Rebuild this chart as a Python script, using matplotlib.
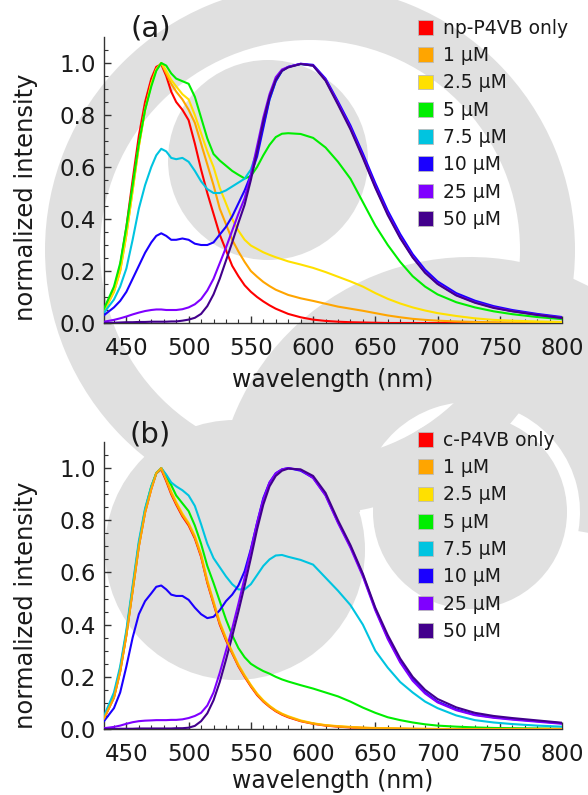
import numpy as np
import matplotlib
matplotlib.use('Agg')
import matplotlib.pyplot as plt
from matplotlib.patches import Circle, Wedge, Patch

# common wavelength grid (nm)
wl = [432, 440, 445, 450, 455, 460, 465, 470, 474, 478, 482, 486, 490, 495, 500, 505, 510,
      515, 520, 525, 530, 535, 540, 545, 550, 555, 560, 565, 570, 575, 580, 590, 600, 610,
      620, 630, 640, 650, 660, 670, 680, 690, 700, 715, 730, 745, 760, 780, 800]

labels_a = ['np-P4VB only', '1 μM', '2.5 μM', '5 μM', '7.5 μM', '10 μM', '25 μM', '50 μM']
labels_b = ['c-P4VB only', '1 μM', '2.5 μM', '5 μM', '7.5 μM', '10 μM', '25 μM', '50 μM']
colors = ['#ff0000', '#ffa500', '#ffe000', '#00ee00', '#00c4e0', '#1a00ff', '#7f00ff', '#42008c']

# ---- panel (a) ----
a_only = [0.05, 0.13, 0.22, 0.37, 0.55, 0.72, 0.85, 0.94, 0.985, 0.995, 0.95, 0.89, 0.85, 0.82, 0.78,
          0.69, 0.59, 0.50, 0.42, 0.34, 0.28, 0.22, 0.18, 0.145, 0.12, 0.10, 0.083, 0.068, 0.055,
          0.045, 0.035, 0.022, 0.013, 0.008, 0.005, 0.003, 0.002, 0.001, 0.0, 0.0, 0.0, 0.0, 0.0,
          0.0, 0.0, 0.0, 0.0, 0.0, 0.0]
a_1 = [0.045, 0.12, 0.20, 0.34, 0.51, 0.68, 0.82, 0.92, 0.975, 1.0, 0.96, 0.92, 0.89, 0.86, 0.82,
       0.77, 0.69, 0.61, 0.53, 0.44, 0.38, 0.32, 0.275, 0.235, 0.20, 0.178, 0.158, 0.142, 0.128,
       0.118, 0.108, 0.095, 0.085, 0.074, 0.063, 0.055, 0.047, 0.038, 0.029, 0.022, 0.016, 0.012,
       0.009, 0.006, 0.004, 0.003, 0.002, 0.001, 0.001]
a_25 = [0.045, 0.12, 0.20, 0.34, 0.51, 0.68, 0.82, 0.92, 0.975, 1.0, 0.97, 0.935, 0.91, 0.88, 0.86,
        0.80, 0.73, 0.66, 0.60, 0.52, 0.46, 0.40, 0.355, 0.32, 0.298, 0.285, 0.272, 0.262, 0.253,
        0.245, 0.237, 0.225, 0.212, 0.196, 0.178, 0.16, 0.14, 0.115, 0.093, 0.075, 0.06, 0.048,
        0.038, 0.027, 0.018, 0.012, 0.009, 0.006, 0.004]
a_5 = [0.055, 0.14, 0.23, 0.37, 0.53, 0.69, 0.82, 0.91, 0.97, 1.0, 0.99, 0.96, 0.94, 0.93, 0.92,
       0.87, 0.79, 0.71, 0.65, 0.625, 0.605, 0.585, 0.57, 0.556, 0.565, 0.60, 0.645, 0.685, 0.715,
       0.728, 0.73, 0.727, 0.712, 0.675, 0.62, 0.555, 0.465, 0.375, 0.30, 0.235, 0.18, 0.14, 0.11,
       0.08, 0.06, 0.045, 0.034, 0.023, 0.015]
a_75 = [0.04, 0.09, 0.14, 0.21, 0.32, 0.44, 0.53, 0.60, 0.645, 0.67, 0.66, 0.635, 0.63, 0.635, 0.62,
        0.585, 0.545, 0.515, 0.50, 0.50, 0.51, 0.525, 0.54, 0.555, 0.59, 0.66, 0.76, 0.86, 0.93,
        0.97, 0.985, 0.996, 0.99, 0.935, 0.845, 0.75, 0.64, 0.525, 0.42, 0.33, 0.255, 0.195, 0.152,
        0.108, 0.08, 0.06, 0.046, 0.032, 0.02]
a_10 = [0.03, 0.06, 0.085, 0.12, 0.17, 0.22, 0.27, 0.31, 0.335, 0.345, 0.335, 0.32, 0.32, 0.325, 0.32,
        0.305, 0.30, 0.30, 0.31, 0.34, 0.37, 0.41, 0.46, 0.51, 0.57, 0.64, 0.75, 0.86, 0.93, 0.97,
        0.985, 0.997, 0.993, 0.94, 0.852, 0.76, 0.652, 0.538, 0.432, 0.342, 0.265, 0.205, 0.16,
        0.115, 0.086, 0.065, 0.05, 0.035, 0.023]
a_250 = [0.005, 0.012, 0.018, 0.025, 0.033, 0.04, 0.046, 0.05, 0.052, 0.052, 0.05, 0.05, 0.05, 0.053,
         0.06, 0.072, 0.092, 0.125, 0.17, 0.23, 0.29, 0.355, 0.42, 0.48, 0.57, 0.68, 0.79, 0.88,
         0.945, 0.975, 0.985, 0.997, 0.99, 0.935, 0.845, 0.75, 0.64, 0.525, 0.42, 0.33, 0.255,
         0.195, 0.152, 0.108, 0.08, 0.06, 0.046, 0.032, 0.02]
a_50 = [0.0, 0.001, 0.002, 0.003, 0.003, 0.004, 0.004, 0.005, 0.005, 0.005, 0.005, 0.006, 0.006,
        0.009, 0.013, 0.02, 0.035, 0.065, 0.11, 0.17, 0.24, 0.31, 0.385, 0.455, 0.55, 0.66, 0.775,
        0.87, 0.935, 0.97, 0.983, 0.996, 0.99, 0.932, 0.84, 0.745, 0.635, 0.52, 0.415, 0.326,
        0.252, 0.193, 0.15, 0.106, 0.078, 0.058, 0.045, 0.031, 0.019]

# ---- panel (b) ----
b_only = [0.04, 0.12, 0.22, 0.36, 0.53, 0.70, 0.83, 0.92, 0.98, 0.995, 0.95, 0.90, 0.86, 0.815, 0.78,
          0.73, 0.66, 0.56, 0.48, 0.40, 0.34, 0.29, 0.24, 0.20, 0.163, 0.13, 0.105, 0.085, 0.068,
          0.055, 0.045, 0.03, 0.02, 0.013, 0.009, 0.006, 0.004, 0.003, 0.002, 0.001, 0.0, 0.0, 0.0,
          0.0, 0.0, 0.0, 0.0, 0.0, 0.0]
b_1 = [0.04, 0.12, 0.22, 0.36, 0.53, 0.70, 0.83, 0.92, 0.98, 1.0, 0.955, 0.905, 0.865, 0.82, 0.785,
       0.735, 0.665, 0.565, 0.485, 0.405, 0.345, 0.293, 0.243, 0.203, 0.166, 0.133, 0.107, 0.087,
       0.07, 0.057, 0.047, 0.031, 0.021, 0.014, 0.01, 0.007, 0.005, 0.003, 0.002, 0.001, 0.001, 0.0,
       0.0, 0.0, 0.0, 0.0, 0.0, 0.0, 0.0]
b_25 = [0.042, 0.125, 0.225, 0.365, 0.535, 0.705, 0.835, 0.925, 0.982, 1.0, 0.96, 0.91, 0.87, 0.826,
        0.79, 0.74, 0.67, 0.57, 0.49, 0.41, 0.35, 0.297, 0.247, 0.206, 0.169, 0.136, 0.11, 0.089,
        0.072, 0.059, 0.049, 0.033, 0.022, 0.015, 0.011, 0.008, 0.005, 0.004, 0.003, 0.002, 0.001,
        0.001, 0.0, 0.0, 0.0, 0.0, 0.0, 0.0, 0.0]
b_5 = [0.045, 0.13, 0.23, 0.37, 0.54, 0.71, 0.84, 0.93, 0.98, 1.0, 0.97, 0.935, 0.895, 0.865, 0.835,
       0.78, 0.71, 0.625, 0.56, 0.49, 0.42, 0.36, 0.31, 0.275, 0.25, 0.235, 0.222, 0.212, 0.20,
       0.19, 0.182, 0.168, 0.155, 0.14, 0.125, 0.105, 0.082, 0.062, 0.045, 0.034, 0.025, 0.018,
       0.013, 0.009, 0.006, 0.004, 0.003, 0.002, 0.001]
b_75 = [0.05, 0.14, 0.24, 0.38, 0.55, 0.72, 0.845, 0.93, 0.98, 1.0, 0.975, 0.945, 0.93, 0.915, 0.895,
        0.855, 0.785, 0.71, 0.655, 0.62, 0.585, 0.555, 0.535, 0.535, 0.555, 0.59, 0.625, 0.65,
        0.665, 0.667, 0.66, 0.648, 0.63, 0.58, 0.53, 0.475, 0.40, 0.30, 0.235, 0.18, 0.14, 0.105,
        0.08, 0.052, 0.034, 0.025, 0.019, 0.013, 0.009]
b_10 = [0.03, 0.08, 0.14, 0.24, 0.35, 0.44, 0.49, 0.52, 0.545, 0.55, 0.535, 0.515, 0.51, 0.51, 0.495,
        0.465, 0.44, 0.425, 0.43, 0.455, 0.49, 0.515, 0.55, 0.605, 0.69, 0.79, 0.885, 0.945, 0.98,
        0.995, 1.0, 0.99, 0.963, 0.897, 0.793, 0.70, 0.59, 0.46, 0.35, 0.26, 0.19, 0.14, 0.105,
        0.075, 0.055, 0.045, 0.038, 0.03, 0.022]
b_250 = [0.003, 0.008, 0.013, 0.02, 0.026, 0.03, 0.032, 0.033, 0.034, 0.034, 0.034, 0.035, 0.035,
         0.037, 0.042, 0.05, 0.062, 0.09, 0.14, 0.215, 0.30, 0.385, 0.48, 0.58, 0.685, 0.79, 0.88,
         0.945, 0.98, 0.995, 1.0, 0.993, 0.962, 0.895, 0.79, 0.695, 0.585, 0.455, 0.345, 0.255,
         0.185, 0.136, 0.102, 0.072, 0.053, 0.043, 0.036, 0.028, 0.02]
b_50 = [0.0, 0.0, 0.001, 0.001, 0.001, 0.002, 0.002, 0.002, 0.002, 0.002, 0.002, 0.002, 0.003, 0.003,
        0.005, 0.012, 0.03, 0.06, 0.11, 0.18, 0.265, 0.355, 0.45, 0.55, 0.655, 0.765, 0.86, 0.93,
        0.97, 0.99, 0.998, 0.995, 0.97, 0.905, 0.80, 0.705, 0.595, 0.465, 0.36, 0.27, 0.20, 0.15,
        0.115, 0.083, 0.062, 0.05, 0.042, 0.033, 0.024]

series_a = [a_only, a_1, a_25, a_5, a_75, a_10, a_250, a_50]
series_b = [b_only, b_1, b_25, b_5, b_75, b_10, b_250, b_50]

W, H = 588, 795
fig = plt.figure(figsize=(W / 100, H / 100), dpi=100)

# faint grey watermark in the background (pixel coordinates)
bg = fig.add_axes([0, 0, 1, 1])
bg.set_xlim(0, W)
bg.set_ylim(H, 0)
bg.axis('off')
grey = '#e0e0e0'
bg.add_patch(Wedge((310, 250), 265, 0, 360, width=55, color=grey, lw=0))
bg.add_patch(Circle((268, 160), 100, color=grey, lw=0))
bg.add_patch(Wedge((470, 512), 255, 180, 370, width=145, color=grey, lw=0))
bg.add_patch(Circle((235, 550), 130, color=grey, lw=0))
bg.add_patch(Circle((470, 512), 97, color=grey, lw=0))


def px_box(left, top, right, bottom):
    return [left / W, 1 - bottom / H, (right - left) / W, (bottom - top) / H]


def draw_panel(ax, series, labels, legend_top, ylab_y, xlab_pad, orange_on_top=False):
    ax.set_facecolor('none')
    for i, (vals, c) in enumerate(zip(series, colors)):
        z = 3 + i
        if orange_on_top and i == 1:
            z = 20
        ax.plot(wl, vals, color=c, lw=1.5, zorder=z, solid_joinstyle='round')
    ax.set_xlim(432, 800)
    ax.set_ylim(0, 1.1)
    ax.set_xticks(np.arange(450, 801, 50))
    ax.set_xticks(np.arange(440, 801, 10), minor=True)
    ax.set_yticks(np.arange(0, 1.01, 0.2))
    ax.set_yticks(np.arange(0, 1.1, 0.05), minor=True)
    ax.yaxis.set_major_formatter(matplotlib.ticker.FormatStrFormatter('%.1f'))
    for s in ['top', 'right']:
        ax.spines[s].set_visible(False)
    for s in ['left', 'bottom']:
        ax.spines[s].set_color('#333333')
        ax.spines[s].set_linewidth(1.0)
    ax.tick_params(which='both', direction='in', colors='#333333', labelcolor='#1a1a1a',
                   labelsize=16.5)
    ax.tick_params(which='major', length=5, width=1)
    ax.tick_params(which='minor', length=3, width=0.8)
    ax.tick_params(axis='x', pad=10)
    ax.tick_params(axis='y', pad=6)
    ax.set_xlabel('wavelength (nm)', fontsize=17, color='#1a1a1a', labelpad=xlab_pad)
    ax.set_ylabel('normalized intensity', fontsize=17.5, color='#1a1a1a')
    ax.yaxis.set_label_coords(-0.145, ylab_y)
    handles = [Patch(facecolor=c, edgecolor='#bbbbbb', lw=0.6) for c in colors]
    fig.legend(handles, labels, loc='upper left',
               bbox_to_anchor=(418 / W, 1 - legend_top / H), frameon=False,
               fontsize=13.5, handlelength=0.82, handleheight=0.82, handletextpad=0.5,
               labelspacing=0.44, borderpad=0, borderaxespad=0, labelcolor='#1a1a1a')


ax1 = fig.add_axes(px_box(104, 37, 562, 323))
draw_panel(ax1, series_a, labels_a, 19, 0.44, 6)
fig.text(151 / W, 1 - 28 / H, '(a)', fontsize=21, ha='center', va='center', color='#1a1a1a')

ax2 = fig.add_axes(px_box(104, 442, 562, 729))
draw_panel(ax2, series_b, labels_b, 431, 0.43, 2, orange_on_top=True)
fig.text(150 / W, 1 - 435 / H, '(b)', fontsize=21, ha='center', va='center', color='#1a1a1a')

fig.savefig('out.png', dpi=100)
